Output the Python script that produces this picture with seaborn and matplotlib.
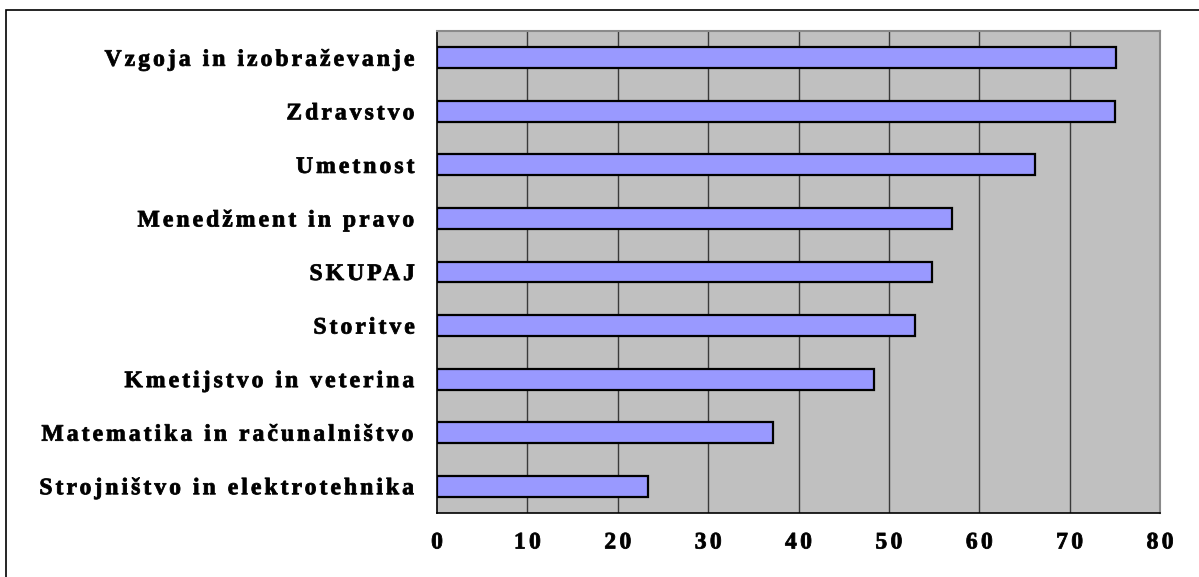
import matplotlib
matplotlib.use("Agg")
import numpy as np
import matplotlib.pyplot as plt
from matplotlib.patches import Rectangle
from matplotlib.patheffects import AbstractPathEffect
from matplotlib.path import Path
import seaborn as sns
import pandas as pd

categories = [
    "Vzgoja in izobraževanje",
    "Zdravstvo",
    "Umetnost",
    "Menedžment in pravo",
    "SKUPAJ",
    "Storitve",
    "Kmetijstvo in veterina",
    "Matematika in računalništvo",
    "Strojništvo in elektrotehnika",
]
values = [75.1, 75.0, 66.2, 57.0, 54.8, 52.9, 48.3, 37.2, 23.4]
x_ticks = [0, 10, 20, 30, 40, 50, 60, 70, 80]

df = pd.DataFrame({"podrocje": categories, "delez": values})


class Tracking(AbstractPathEffect):
    """Letter spacing for text: each glyph is shifted by a fixed step
    (spaces count as a character), optionally with a thin outline to
    thicken the strokes."""

    def __init__(self, spacing=2.5, anchor="right", embolden=0.0):
        super().__init__()
        self.spacing = spacing      # points per character gap
        self.anchor = anchor
        self.embolden = embolden    # outline width in points

    def draw_path(self, renderer, gc, tpath, affine, rgbFace=None):
        verts = np.array(tpath.vertices, dtype=float, copy=True)
        codes = tpath.codes
        if codes is None or len(verts) == 0:
            renderer.draw_path(gc, tpath, affine, rgbFace)
            return
        sx = abs(affine.get_matrix()[0, 0]) or 1.0
        step = renderer.points_to_pixels(self.spacing) / sx

        starts = np.flatnonzero(codes == Path.MOVETO)
        ends = list(starts[1:]) + [len(codes)]
        contours = []
        for s, e in zip(starts, ends):
            xs = verts[s:e, 0]
            contours.append((xs.min(), xs.max(), s, e))
        contours.sort(key=lambda c: c[0])

        # group contours into glyphs (dots, accents and counters overlap)
        glyphs = []
        for c in contours:
            if glyphs:
                g = glyphs[-1]
                ov = min(g[1], c[1]) - max(g[0], c[0])
                w = max(min(g[1] - g[0], c[1] - c[0]), 1e-6)
                if ov > 0.5 * w:
                    g[0] = min(g[0], c[0])
                    g[1] = max(g[1], c[1])
                    g[2].append(c)
                    continue
            glyphs.append([c[0], c[1], [c]])

        idx, pos = [], 0
        for i, g in enumerate(glyphs):
            if i > 0:
                pos += 1
                if g[0] - glyphs[i - 1][1] > 17:   # word space
                    pos += 1
            idx.append(pos)
        ref = idx[-1] if self.anchor == "right" else 0.5 * idx[-1]
        for g, k in zip(glyphs, idx):
            for (_, _, s, e) in g[2]:
                verts[s:e, 0] += (k - ref) * step

        path = Path(verts, codes)
        if self.embolden > 0 and rgbFace is not None:
            gc2 = renderer.new_gc()
            gc2.copy_properties(gc)
            gc2.set_foreground(rgbFace)
            gc2.set_linewidth(self.embolden)
            renderer.draw_path(gc2, path, affine, rgbFace)
            gc2.restore()
        else:
            renderer.draw_path(gc, path, affine, rgbFace)


sns.set_style("white")
plt.rcParams["font.family"] = ["Liberation Serif", "DejaVu Serif"]
plt.rcParams["font.weight"] = "bold"

W, H = 1199, 577
fig = plt.figure(figsize=(W / 100, H / 100), dpi=100)
ax = fig.add_axes([437 / W, 1 - 513 / H, (1160 - 437) / W, (513 - 31) / H])
ax.set_facecolor("#C0C0C0")

sns.barplot(data=df, x="delez", y="podrocje", orient="h", color="#9999FF",
            saturation=1, edgecolor="black", linewidth=1.6, width=0.39, ax=ax)

ax.set_xlim(0, 80)
ax.set_ylim(len(categories) - 0.5, -0.5)
ax.set_xticks(x_ticks)
ax.set_xticklabels([str(t) for t in x_ticks], fontsize=17, fontweight="bold",
                   path_effects=[Tracking(2.4, "center", embolden=0.6)])
ax.set_xlabel("")
ax.set_ylabel("")

# vertical gridlines behind the bars
ax.set_axisbelow(True)
for t in x_ticks[1:-1]:
    ax.axvline(t, color="#3a3a3a", linewidth=1.0, zorder=0.5)

# category labels at bar centres, tick marks at category boundaries
ax.set_yticks(range(len(categories)))
ax.set_yticklabels(categories, fontsize=17, fontweight="bold",
                   path_effects=[Tracking(2.2, "right", embolden=0.6)])
ax.set_yticks([i - 0.5 for i in range(len(categories) + 1)], minor=True)
ax.tick_params(axis="y", which="major", length=0, pad=16)
ax.tick_params(axis="y", which="minor", length=6, width=1, color="black", direction="out")
ax.tick_params(axis="x", which="major", length=5, width=1, color="black",
               direction="out", pad=9)
ax.tick_params(axis="both", colors="black")

for side in ("left", "bottom"):
    ax.spines[side].set_color("black")
    ax.spines[side].set_linewidth(1.2)
for side in ("right", "top"):
    ax.spines[side].set_visible(True)
    ax.spines[side].set_color("#8a8a8a")
    ax.spines[side].set_linewidth(1.5)

# chart area border
fig.patches.append(Rectangle((6 / W, -0.1), 1.2, (1 - 10 / H) + 0.1,
                             transform=fig.transFigure, fill=False,
                             edgecolor="black", linewidth=1.2))

fig.savefig("out.png", dpi=100)
